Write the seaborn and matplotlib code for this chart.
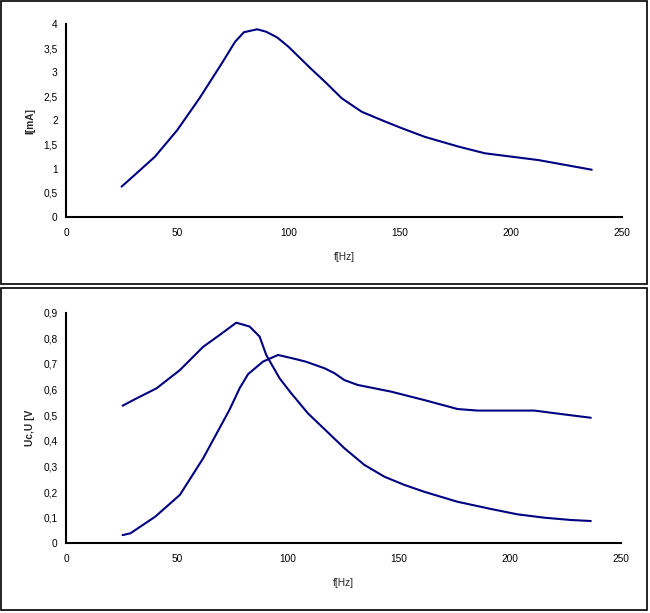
import matplotlib
matplotlib.use("Agg")
import matplotlib.pyplot as plt
from matplotlib.patches import Rectangle
import seaborn as sns
import pandas as pd

# --- Data ---
f_i = [25, 30, 40, 50, 60, 70, 76, 80, 86, 90, 95, 100, 110, 116.5, 124, 133,
       143.4, 151, 161.4, 176.4, 188.4, 200.4, 212.4, 224.4, 236.4]
i_ma = [0.63, 0.835, 1.25, 1.80, 2.46, 3.18, 3.63, 3.83, 3.89, 3.84, 3.72, 3.53, 3.08,
        2.80, 2.46, 2.18, 1.98, 1.84, 1.66, 1.46, 1.32, 1.25, 1.18, 1.08, 0.98]

f_a = [25.5, 30.3, 40.8, 51.3, 61.8, 69.2, 76.7, 82.7, 87.2, 90.2, 96.2, 101.5, 109,
       116.5, 125.4, 134.4, 143.4, 152.4, 161.4, 176.4, 191.4, 203.4, 215.4, 227.4, 236.4]
u_a = [0.537, 0.559, 0.605, 0.676, 0.767, 0.813, 0.861, 0.846, 0.807, 0.735, 0.644,
       0.585, 0.507, 0.445, 0.371, 0.306, 0.260, 0.228, 0.201, 0.162, 0.134, 0.113,
       0.100, 0.091, 0.087]

f_b = [25.5, 29, 40.2, 51.3, 61.8, 69.2, 73.7, 78.2, 82, 88.7, 95.5, 102, 108, 116.5,
       120.9, 125.4, 131.4, 146.4, 161.4, 176.4, 185.4, 211, 224.4, 236.4]
u_b = [0.032, 0.039, 0.104, 0.189, 0.332, 0.45, 0.522, 0.605, 0.660, 0.709, 0.735,
       0.722, 0.709, 0.683, 0.664, 0.637, 0.618, 0.592, 0.559, 0.524, 0.518, 0.518,
       0.503, 0.490]

x_ticks = [0, 50, 100, 150, 200, 250]
y1_ticks = [0, 0.5, 1, 1.5, 2, 2.5, 3, 3.5, 4]
y2_ticks = [0, 0.1, 0.2, 0.3, 0.4, 0.5, 0.6, 0.7, 0.8, 0.9]

sns.set_style("white")
plt.rcParams['font.family'] = ['Liberation Sans', 'DejaVu Sans']

W, H = 650, 613
fig = plt.figure(figsize=(W / 100, H / 100), dpi=100)

def px_axes(l, t, r, b):
    return fig.add_axes([l / W, 1 - b / H, (r - l) / W, (b - t) / H])

def comma(v):
    s = ('%g' % v)
    return s.replace('.', ',')

line_color = '#000080'

def style(ax, yticks, ylabel):
    ax.set_xlim(0, 250)
    ax.set_ylim(yticks[0], yticks[-1])
    ax.set_xticks(x_ticks)
    ax.set_xticklabels([comma(v) for v in x_ticks], fontsize=7.3)
    ax.set_yticks(yticks)
    ax.set_yticklabels([comma(v) for v in yticks], fontsize=7.3)
    for s in ['top', 'right']:
        ax.spines[s].set_visible(False)
    for s in ['left', 'bottom']:
        ax.spines[s].set_color('black')
        ax.spines[s].set_linewidth(1.5)
    ax.tick_params(direction='inout', length=6, width=1.5, colors='black')
    ax.tick_params(axis='x', pad=5)
    ax.tick_params(axis='y', pad=3)
    ax.set_xlabel('f[Hz]', fontsize=7.3, labelpad=10)
    ax.set_ylabel(ylabel, fontsize=7.3, fontweight='bold', labelpad=6)
    ax.patch.set_alpha(0)

# Top panel
ax1 = px_axes(66, 24, 622, 217)
df1 = pd.DataFrame({'f': f_i, 'I': i_ma})
sns.lineplot(data=df1, x='f', y='I', ax=ax1, color=line_color, linewidth=1.5, sort=False)
style(ax1, y1_ticks, 'I[mA]')

# Bottom panel
ax2 = px_axes(66, 312.7, 621, 543.3)
dfa = pd.DataFrame({'f': f_a, 'U': u_a})
dfb = pd.DataFrame({'f': f_b, 'U': u_b})
sns.lineplot(data=dfa, x='f', y='U', ax=ax2, color=line_color, linewidth=1.5, sort=False)
sns.lineplot(data=dfb, x='f', y='U', ax=ax2, color=line_color, linewidth=1.5, sort=False)
style(ax2, y2_ticks, 'Uc,U [V')

# Panel borders
for (l, t, r, b) in [(1, 1, 647, 284), (1, 288, 647, 610)]:
    fig.add_artist(Rectangle((l / W, 1 - b / H), (r - l) / W, (b - t) / H,
                             transform=fig.transFigure, fill=False,
                             edgecolor='black', linewidth=1.2))

fig.savefig('out.png', dpi=100)
